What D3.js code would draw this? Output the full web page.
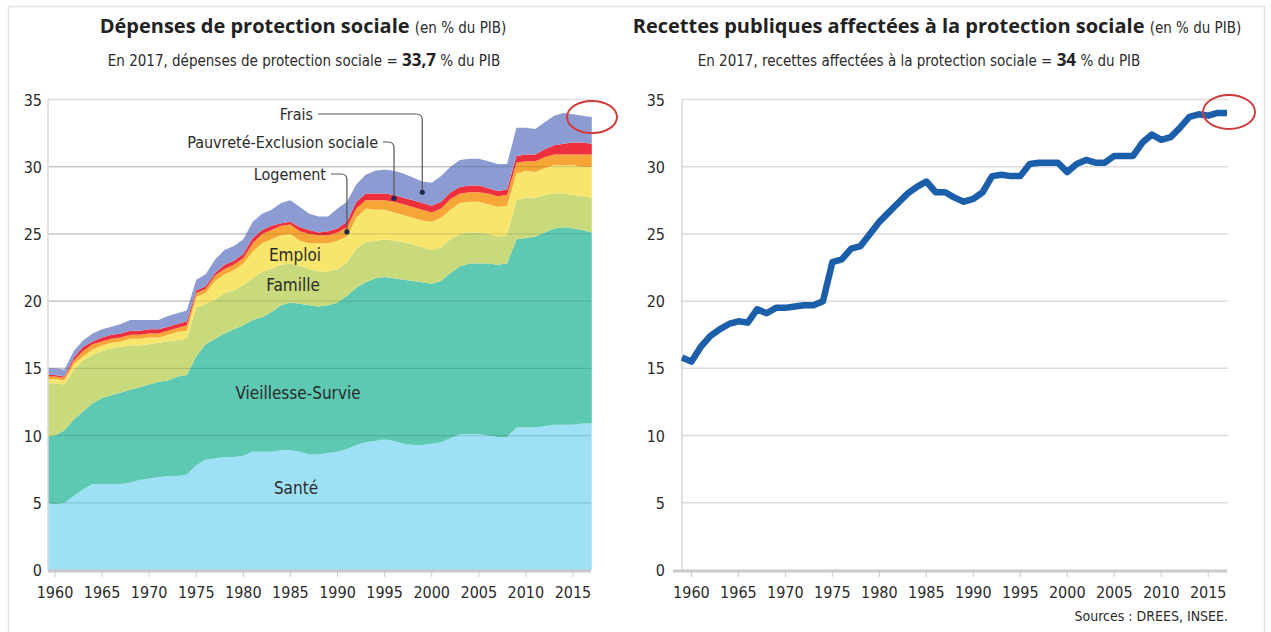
<!DOCTYPE html>
<html>
<head>
<meta charset="utf-8">
<script src="https://cdnjs.cloudflare.com/ajax/libs/d3/7.8.5/d3.min.js"></script>
<style>
body{margin:0;background:#fff}
text{font-family:"Liberation Sans Narrow","DejaVu Sans Condensed",sans-serif;fill:#2b2b2b}
.title{font-family:"Open Sans","Liberation Sans",sans-serif;font-weight:bold;fill:#222}
</style>
</head>
<body>
<svg id="chart" width="1271" height="632"></svg>
<script>
var years = [1959,1960,1961,1962,1963,1964,1965,1966,1967,1968,
    1969,1970,1971,1972,1973,1974,1975,1976,1977,1978,
    1979,1980,1981,1982,1983,1984,1985,1986,1987,1988,
    1989,1990,1991,1992,1993,1994,1995,1996,1997,1998,
    1999,2000,2001,2002,2003,2004,2005,2006,2007,2008,
    2009,2010,2011,2012,2013,2014,2015,2016,2017]

// dépenses par risque (en % du PIB)
var sante = [5.0,4.9,5.0,5.5,6.0,6.4,6.4,6.4,6.4,6.5,
    6.7,6.8,6.9,7.0,7.0,7.1,7.8,8.2,8.3,8.4,
    8.4,8.5,8.8,8.8,8.8,8.9,8.9,8.8,8.6,8.6,
    8.7,8.8,9.0,9.3,9.5,9.6,9.7,9.6,9.4,9.3,
    9.3,9.4,9.5,9.8,10.1,10.1,10.1,10.0,9.9,9.9,
    10.6,10.6,10.6,10.7,10.8,10.8,10.8,10.9,10.9]
var vieillesse = [4.9,5.1,5.4,5.7,5.8,6.0,6.4,6.6,6.8,6.9,
    6.9,7.0,7.1,7.1,7.4,7.4,8.1,8.6,8.9,9.2,
    9.5,9.7,9.8,10.0,10.4,10.8,11.0,11.0,11.1,11.0,
    11.0,11.1,11.4,11.7,11.9,12.1,12.1,12.1,12.2,12.2,
    12.1,11.9,12.0,12.3,12.5,12.7,12.7,12.8,12.8,12.9,
    14.0,14.1,14.2,14.4,14.6,14.7,14.6,14.4,14.2]
var famille = [4.0,3.9,3.4,3.7,3.8,3.6,3.5,3.5,3.4,3.3,
    3.1,3.0,2.9,2.9,2.7,2.7,3.6,3.0,2.9,3.0,
    2.9,3.0,3.1,3.4,3.2,3.0,2.9,2.8,2.7,2.6,
    2.5,2.5,2.5,2.9,3.0,2.8,2.8,2.8,2.8,2.7,
    2.6,2.5,2.5,2.5,2.4,2.3,2.3,2.2,2.1,2.1,
    2.9,3.0,2.9,2.8,2.6,2.5,2.5,2.5,2.6]
var emploi = [0.3,0.3,0.3,0.4,0.3,0.4,0.4,0.4,0.4,0.5,
    0.5,0.5,0.4,0.5,0.6,0.6,0.8,0.8,1.4,1.4,
    1.5,1.6,2.0,2.1,2.2,2.2,2.2,1.9,1.9,2.1,
    2.1,2.1,1.9,2.3,2.5,2.3,2.2,2.1,2.0,2.0,
    2.0,2.1,2.2,2.2,2.3,2.3,2.3,2.2,2.2,2.2,
    2.0,2.0,1.9,2.0,2.1,2.1,2.2,2.2,2.3]
var logement = [0.2,0.2,0.2,0.3,0.4,0.4,0.3,0.3,0.3,0.3,
    0.3,0.3,0.3,0.3,0.3,0.4,0.3,0.3,0.4,0.4,
    0.4,0.4,0.6,0.7,0.7,0.7,0.7,0.7,0.7,0.6,
    0.6,0.6,0.7,0.7,0.6,0.7,0.7,0.8,0.8,0.8,
    0.8,0.7,0.7,0.8,0.7,0.7,0.7,0.8,0.8,0.8,
    0.8,0.7,0.8,0.8,0.8,0.8,0.8,0.9,0.9]
var pauvrete = [0.1,0.1,0.1,0.2,0.3,0.2,0.3,0.3,0.3,0.3,
    0.3,0.3,0.3,0.3,0.3,0.3,0.2,0.2,0.2,0.3,
    0.3,0.3,0.4,0.3,0.3,0.2,0.2,0.3,0.3,0.2,
    0.3,0.3,0.4,0.5,0.5,0.5,0.5,0.5,0.5,0.5,
    0.5,0.5,0.5,0.5,0.5,0.5,0.5,0.4,0.4,0.4,
    0.5,0.5,0.5,0.6,0.7,0.8,0.9,0.9,0.8]
var frais = [0.5,0.5,0.5,0.5,0.5,0.6,0.6,0.6,0.7,0.8,
    0.8,0.7,0.7,0.8,0.8,0.8,0.8,0.9,1.0,1.1,
    1.1,1.1,1.2,1.2,1.2,1.5,1.6,1.5,1.2,1.2,
    1.1,1.5,1.5,1.3,1.4,1.7,1.8,1.8,1.8,1.7,
    1.6,1.7,1.9,1.9,2.0,2.0,2.0,2.0,2.0,1.9,
    2.1,2.0,1.9,2.0,2.2,2.3,2.1,2.0,2.0]

// recettes affectées (en % du PIB)
var recettes = [15.8,15.5,16.6,17.4,17.9,18.3,18.5,18.4,19.4,19.1,
    19.5,19.5,19.6,19.7,19.7,20.0,22.9,23.1,23.9,24.1,
    25.0,25.9,26.6,27.3,28.0,28.5,28.9,28.1,28.1,27.7,
    27.4,27.6,28.1,29.3,29.4,29.3,29.3,30.2,30.3,30.3,
    30.3,29.6,30.2,30.5,30.3,30.3,30.8,30.8,30.8,31.8,
    32.4,32.0,32.2,32.9,33.7,33.9,33.8,34.0,34.0]

var keys = ["Santé","Vieillesse-Survie","Famille","Emploi","Logement","Pauvreté-Exclusion sociale","Frais"]
var colors = ["#9ee1f6","#5ec9b3","#c9da7c","#f8e66c","#f6a636","#ee2f3d","#8c9bd1"]
var yTicks = [0,5,10,15,20,25,30,35]
var xTicks = [1960,1965,1970,1975,1980,1985,1990,1995,2000,2005,2010,2015]

var svg = d3.select("#chart")

// cadre
svg.append("rect").attr("x",8.5).attr("y",6.5).attr("width",1256).attr("height",640)
    .attr("fill","none").attr("stroke","#e2e2e2").attr("stroke-width",1.5)

var y = d3.scaleLinear().domain([0,35]).range([570,99.5])
var xL = d3.scaleLinear().domain([1959.26,2017]).range([48,591.8])
var xR = d3.scaleLinear().domain([1959,2017]).range([682,1227])

// ---- graphique de gauche : aires empilées
var table = years.map(function(yr,i){
    return {year:yr,"Santé":sante[i],"Vieillesse-Survie":vieillesse[i],"Famille":famille[i],
        "Emploi":emploi[i],"Logement":logement[i],"Pauvreté-Exclusion sociale":pauvrete[i],"Frais":frais[i]}
})
var stacked = d3.stack().keys(keys)(table)

svg.append("clipPath").attr("id","clipL").append("rect")
    .attr("x",48).attr("y",60).attr("width",544).attr("height",511)

var area = d3.area()
    .x(function(d){return xL(d.data.year)})
    .y0(function(d){return y(d[0])})
    .y1(function(d){return y(d[1])})

var left = svg.append("g")

// grille légère derrière
left.selectAll(".gridback").data(yTicks).enter().append("line")
    .attr("x1",48).attr("x2",591).attr("y1",function(d){return y(d)}).attr("y2",function(d){return y(d)})
    .attr("stroke","#dedede").attr("stroke-width",1.5)

left.append("g").attr("clip-path","url(#clipL)")
    .selectAll("path").data(stacked).enter().append("path")
    .attr("d",area)
    .attr("fill",function(d,i){return colors[i]})

// grille par dessus les aires
left.selectAll(".gridfront").data(yTicks.slice(1,7)).enter().append("line")
    .attr("x1",48).attr("x2",591).attr("y1",function(d){return y(d)}).attr("y2",function(d){return y(d)})
    .attr("stroke","#000").attr("stroke-opacity",0.13).attr("stroke-width",1.2)

left.append("line").attr("x1",48).attr("x2",48).attr("y1",y(35)).attr("y2",y(0))
    .attr("stroke","#d8d8d8").attr("stroke-width",1.5)

function drawAxis(g,x,x0,x1,labelEnd){
    g.append("line").attr("x1",x0).attr("x2",x1).attr("y1",y(0)+1).attr("y2",y(0)+1)
        .attr("stroke","#c9c9c9").attr("stroke-width",3)
    g.selectAll(".tick").data(xTicks).enter().append("line")
        .attr("x1",function(d){return x(d)}).attr("x2",function(d){return x(d)})
        .attr("y1",y(0)+2).attr("y2",y(0)+7)
        .attr("stroke","#c9c9c9").attr("stroke-width",1)
    g.selectAll(".xlab").data(xTicks).enter().append("text")
        .attr("x",function(d){return x(d)}).attr("y",598)
        .attr("text-anchor","middle").attr("font-size",16)
        .text(function(d){return d})
    g.selectAll(".ylab").data(yTicks).enter().append("text")
        .attr("x",labelEnd).attr("y",function(d){return y(d)+6})
        .attr("text-anchor","end").attr("font-size",16)
        .text(function(d){return d})
}
drawAxis(left,xL,48,591,42)

// étiquettes des risques
var areaLabels = [
    {text:"Emploi",x:295,y:261},
    {text:"Famille",x:293,y:291},
    {text:"Vieillesse-Survie",x:298,y:399},
    {text:"Santé",x:296,y:494}
]
left.selectAll(".alab").data(areaLabels).enter().append("text")
    .attr("x",function(d){return d.x}).attr("y",function(d){return d.y})
    .attr("text-anchor","middle").attr("font-size",17).attr("fill","#263434")
    .text(function(d){return d.text})

// annotations avec renvoi
var callouts = [
    {key:"Frais",year:1999,tx:313,ty:120},
    {key:"Pauvreté-Exclusion sociale",year:1996,tx:378,ty:148},
    {key:"Logement",year:1991,tx:326,ty:180}
]
callouts.forEach(function(c){
    var layer = stacked[keys.indexOf(c.key)]
    var p = layer[years.indexOf(c.year)]
    var dx = xL(c.year), dy = y((p[0]+p[1])/2)
    var ly = c.ty-6
    left.append("path")
        .attr("d","M"+(c.tx+5)+","+ly+" H"+(dx-6)+" Q"+dx+","+ly+" "+dx+","+(ly+6)+" V"+dy)
        .attr("fill","none").attr("stroke","#555").attr("stroke-width",1.2)
    left.append("circle").attr("cx",dx).attr("cy",dy).attr("r",2.6).attr("fill","#1d2c4c")
    left.append("text").attr("x",c.tx).attr("y",c.ty)
        .attr("text-anchor","end").attr("font-size",16).text(c.key)
})

left.append("ellipse").attr("cx",592).attr("cy",117).attr("rx",25).attr("ry",16)
    .attr("fill","none").attr("stroke","#d23a3a").attr("stroke-width",2)

// titres
var t1 = svg.append("text").attr("x",303).attr("y",33).attr("text-anchor","middle")
t1.append("tspan").attr("class","title").attr("font-size",20).text("Dépenses de protection sociale ")
t1.append("tspan").attr("font-size",15).text("(en % du PIB)")
var s1 = svg.append("text").attr("x",304).attr("y",66).attr("text-anchor","middle").attr("font-size",15)
s1.append("tspan").text("En 2017, dépenses de protection sociale = ")
s1.append("tspan").attr("class","title").attr("font-size",17).text("33,7")
s1.append("tspan").text("  % du PIB")

// ---- graphique de droite : recettes
var right = svg.append("g")
right.selectAll(".grid").data(yTicks.slice(1)).enter().append("line")
    .attr("x1",682).attr("x2",1228).attr("y1",function(d){return y(d)}).attr("y2",function(d){return y(d)})
    .attr("stroke","#dcdcdc").attr("stroke-width",1.5)
right.append("line").attr("x1",682).attr("x2",682).attr("y1",y(35)).attr("y2",y(0))
    .attr("stroke","#d8d8d8").attr("stroke-width",1.5)
drawAxis(right,xR,673,1227,665)

var line = d3.line()
    .x(function(d,i){return xR(years[i])})
    .y(function(d){return y(d)})
right.append("path").datum(recettes)
    .attr("d",line)
    .attr("fill","none").attr("stroke","#1b5eaa").attr("stroke-width",6.5)
    .attr("stroke-linejoin","round")

right.append("ellipse").attr("cx",1229).attr("cy",112).attr("rx",26).attr("ry",17)
    .attr("fill","none").attr("stroke","#d23a3a").attr("stroke-width",2)

var t2 = svg.append("text").attr("x",937).attr("y",33).attr("text-anchor","middle")
t2.append("tspan").attr("class","title").attr("font-size",20).text("Recettes publiques affectées à la protection sociale  ")
t2.append("tspan").attr("font-size",15).text("(en % du PIB)")
var s2 = svg.append("text").attr("x",919).attr("y",66).attr("text-anchor","middle").attr("font-size",15)
s2.append("tspan").text("En 2017, recettes affectées à la protection sociale = ")
s2.append("tspan").attr("class","title").attr("font-size",17).text("34")
s2.append("tspan").text("  % du PIB")

svg.append("text").attr("x",1228).attr("y",621).attr("text-anchor","end").attr("font-size",14)
    .text("Sources : DREES, INSEE.")
</script>
</body>
</html>
